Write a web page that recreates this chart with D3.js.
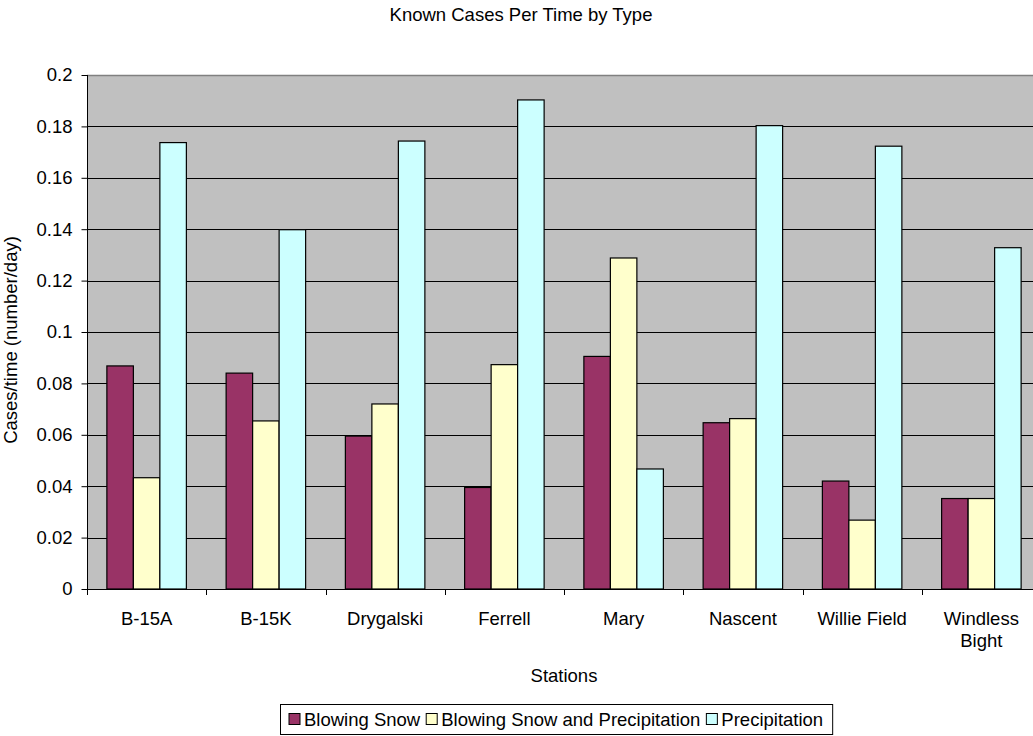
<!DOCTYPE html>
<html>
<head>
<meta charset="utf-8">
<script src="https://cdn.jsdelivr.net/npm/d3@7"></script>
<style>
  html, body { margin: 0; padding: 0; background: #fff; }
  svg { display: block; font-family: "Liberation Sans", Arial, sans-serif; }
</style>
</head>
<body>
<svg id="chart" width="1033" height="736"></svg>
<script>
// Stations on the category axis
const stations = ["B-15A", "B-15K", "Drygalski", "Ferrell", "Mary", "Nascent", "Willie Field", "Windless Bight"];

// Series names and colours
const seriesNames = ["Blowing Snow", "Blowing Snow and Precipitation", "Precipitation"];
const seriesColors = ["#993366", "#FFFFCC", "#CCFFFF"];

// Known cases per day, one array per series (order follows stations)
const blowingSnow = [0.0868, 0.0840, 0.0595, 0.0395, 0.0905, 0.0647, 0.0420, 0.0352];
const blowingSnowAndPrecip = [0.0433, 0.0654, 0.0720, 0.0873, 0.1288, 0.0663, 0.0268, 0.0352];
const precipitation = [0.1737, 0.1398, 0.1743, 0.1903, 0.0467, 0.1803, 0.1723, 0.1328];

// Value axis ticks
const yTicks = [0, 0.02, 0.04, 0.06, 0.08, 0.1, 0.12, 0.14, 0.16, 0.18, 0.2];

const seriesValues = [blowingSnow, blowingSnowAndPrecip, precipitation];

const svg = d3.select("#chart");
const FONT = 18.5;

const plot = { left: 87, top: 75, bottom: 589, bandW: 119.25 };
plot.right = plot.left + plot.bandW * stations.length;

const x0 = d3.scaleBand().domain(stations).range([plot.left, plot.right]).paddingInner(0).paddingOuter(0);
const x1 = d3.scaleBand().domain(d3.range(seriesNames.length))
  .range([x0.bandwidth() / 6, x0.bandwidth() * 5 / 6]).padding(0);
const y = d3.scaleLinear().domain([0, 0.2]).range([plot.bottom, plot.top]);

// Plot background
svg.append("rect")
  .attr("x", plot.left).attr("y", plot.top)
  .attr("width", plot.right - plot.left).attr("height", plot.bottom - plot.top)
  .attr("fill", "#C0C0C0");

// Top border of the plot area
svg.append("line")
  .attr("x1", plot.left).attr("x2", plot.right)
  .attr("y1", Math.round(y(0.2)) + 0.5).attr("y2", Math.round(y(0.2)) + 0.5)
  .attr("stroke", "#808080").attr("stroke-width", 1.5);

// Horizontal gridlines
svg.append("g").selectAll("line")
  .data(yTicks.filter(t => t > 0 && t < 0.2))
  .join("line")
  .attr("x1", plot.left).attr("x2", plot.right)
  .attr("y1", d => Math.round(y(d)) + 0.5).attr("y2", d => Math.round(y(d)) + 0.5)
  .attr("stroke", "#000").attr("stroke-width", 1);

// Bars
const groups = svg.append("g").selectAll("g")
  .data(stations)
  .join("g")
  .attr("transform", d => `translate(${x0(d)},0)`);

groups.selectAll("rect")
  .data((d, i) => seriesValues.map((vals, s) => ({ s, v: vals[i] })))
  .join("rect")
  .attr("x", d => x1(d.s))
  .attr("width", x1.bandwidth())
  .attr("y", d => y(d.v))
  .attr("height", d => y(0) - y(d.v))
  .attr("fill", d => seriesColors[d.s])
  .attr("stroke", "#000")
  .attr("stroke-width", 1.2);

// Value axis
const yAxis = svg.append("g")
  .attr("transform", `translate(${plot.left + 0.5},0)`)
  .call(d3.axisLeft(y).tickValues(yTicks).tickFormat(d => d3.format("~g")(d))
    .tickSize(6).tickPadding(9));
yAxis.select(".domain").attr("stroke", "#000").attr("d", `M0,${plot.top}V${plot.bottom}`);
yAxis.selectAll(".tick line").attr("stroke", "#000");
yAxis.selectAll(".tick text").attr("font-size", FONT).attr("fill", "#000")
  .attr("font-family", "Liberation Sans, Arial, sans-serif");

// Category axis: ticks sit on the boundaries between stations
const xAxisG = svg.append("g");
xAxisG.append("line")
  .attr("x1", plot.left).attr("x2", plot.right)
  .attr("y1", plot.bottom + 0.5).attr("y2", plot.bottom + 0.5)
  .attr("stroke", "#000");
xAxisG.selectAll("line.tick")
  .data(d3.range(stations.length + 1))
  .join("line").attr("class", "tick")
  .attr("x1", i => Math.round(plot.left + i * x0.step()) + 0.5)
  .attr("x2", i => Math.round(plot.left + i * x0.step()) + 0.5)
  .attr("y1", plot.bottom).attr("y2", plot.bottom + 6)
  .attr("stroke", "#000");

// Category labels; long names wrap onto two lines
const labelLines = { "Windless Bight": ["Windless", "Bight"] };
xAxisG.selectAll("text")
  .data(stations)
  .join("text")
  .attr("x", d => x0(d) + x0.bandwidth() / 2)
  .attr("y", 625)
  .attr("text-anchor", "middle")
  .attr("font-size", FONT)
  .each(function (d) {
    const lines = labelLines[d] || [d];
    d3.select(this).selectAll("tspan").data(lines).join("tspan")
      .attr("x", x0(d) + x0.bandwidth() / 2)
      .attr("dy", (l, i) => i === 0 ? 0 : 22)
      .text(l => l);
  });

// Titles
svg.append("text")
  .attr("x", 521).attr("y", 21)
  .attr("text-anchor", "middle").attr("font-size", FONT)
  .text("Known Cases Per Time by Type");

svg.append("text")
  .attr("x", (plot.left + plot.right) / 2).attr("y", 682)
  .attr("text-anchor", "middle").attr("font-size", FONT)
  .text("Stations");

svg.append("text")
  .attr("transform", `translate(17,${(plot.top + plot.bottom) / 2 + 8}) rotate(-90)`)
  .attr("text-anchor", "middle").attr("font-size", FONT)
  .text("Cases/time (number/day)");

// Legend
const legend = svg.append("g");
const legendTop = 704, legendH = 30, sq = 11;
let lx = 280 + 9;
const items = [];
seriesNames.forEach((name, i) => {
  const g = legend.append("g");
  g.append("rect")
    .attr("x", lx).attr("y", legendTop + legendH / 2 - sq / 2)
    .attr("width", sq).attr("height", sq)
    .attr("fill", seriesColors[i]).attr("stroke", "#000").attr("stroke-width", 1);
  const t = g.append("text")
    .attr("x", lx + sq + 4).attr("y", legendTop + legendH / 2 + 6.5)
    .attr("font-size", FONT).text(name);
  const w = t.node().getComputedTextLength();
  lx += sq + 4 + w + 6;
});
legend.insert("rect", ":first-child")
  .attr("x", 280.5).attr("y", legendTop + 0.5)
  .attr("width", lx - 280 + 3).attr("height", legendH)
  .attr("fill", "#fff").attr("stroke", "#000").attr("stroke-width", 1);
</script>
</body>
</html>
